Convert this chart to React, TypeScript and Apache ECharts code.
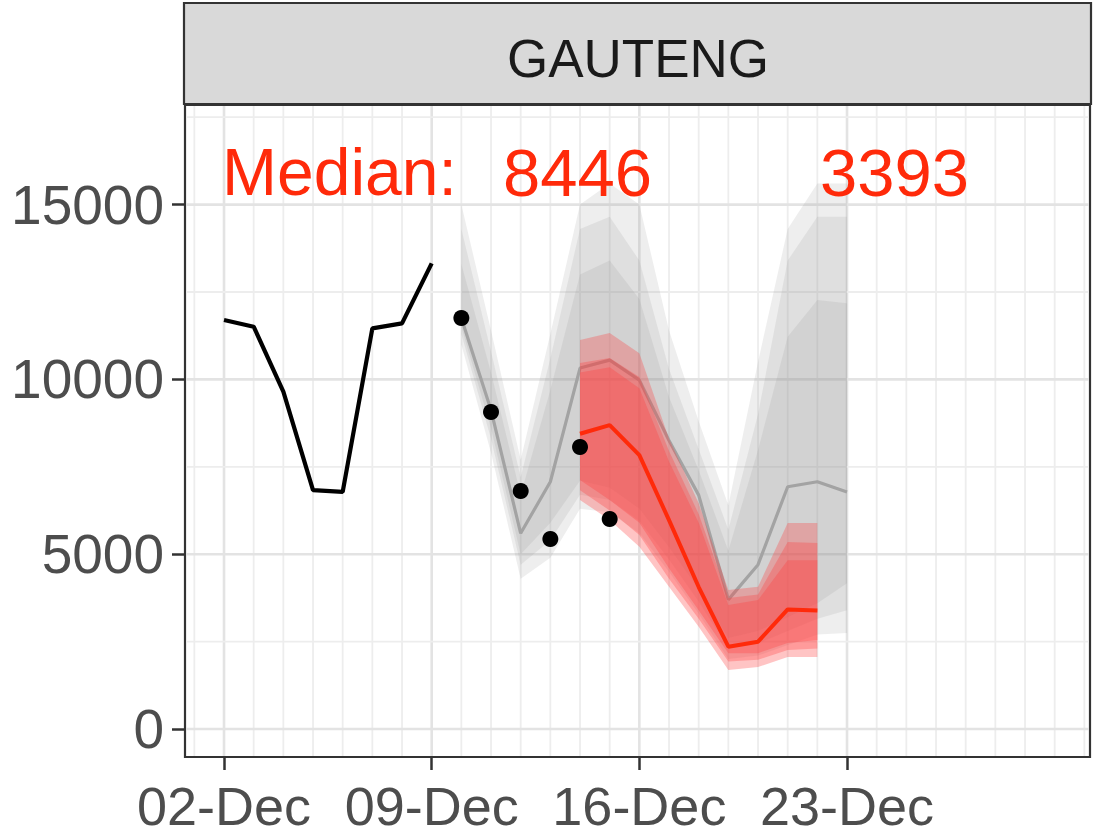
import React, { useEffect, useRef } from 'react';
import * as echarts from 'echarts';

// ---- data (day = day of December) ----
const obsDays = [2, 3, 4, 5, 6, 7, 8, 9];
const obsCases = [11699, 11508, 9650, 6835, 6780, 11460, 11603, 13319];

const laterDays = [10, 11, 12, 13, 14, 15];
const laterCases = [11755, 9066, 6807, 5434, 8065, 6006];

const grayDays = [10, 11, 12, 13, 14, 15, 16, 17, 18, 19, 20, 21, 22, 23];
const grayMedian = [11755, 9123, 5597, 7073, 10325, 10550, 9980, 8250, 6690, 3700, 4700, 6930, 7073, 6780];
const grayOuterUpper = [15000, 11400, 7700, 11300, 15000, 15600, 15000, 11400, 8800, 6400, 10500, 14300, 15600, 15600];
const grayMidUpper = [14300, 10800, 7200, 10600, 14300, 14650, 13400, 10300, 8000, 5700, 9000, 13400, 14650, 14650];
const grayInnerUpper = [13300, 10200, 6700, 9700, 13000, 13400, 12300, 9500, 7400, 5100, 7980, 11220, 12270, 12180];
const grayInnerLower = [11500, 8600, 5000, 5900, 7100, 6900, 6300, 5200, 4000, 2600, 2800, 3200, 3600, 4170];
const grayMidLower = [11300, 8300, 4700, 5400, 6700, 6550, 5950, 4850, 3650, 2300, 2450, 2800, 3150, 3400];
const grayOuterLower = [11000, 7900, 4300, 4900, 6300, 6200, 5600, 4500, 3300, 2000, 2100, 2400, 2700, 2745];

const redDays = [14, 15, 16, 17, 18, 19, 20, 21, 22];
const redMedian = [8446, 8694, 7836, 5975, 4060, 2354, 2497, 3420, 3393];
const redOuterUpper = [11125, 11325, 10750, 8300, 6460, 3975, 4070, 5890, 5890];
const redMidUpper = [10470, 10610, 10070, 7950, 6150, 3750, 3850, 5350, 5320];
const redInnerUpper = [10200, 10350, 9750, 7650, 5900, 3550, 3690, 4830, 4830];
const redInnerLower = [7120, 6550, 5900, 4600, 3400, 2170, 2170, 2460, 2545];
const redMidLower = [6830, 6250, 5550, 4300, 3150, 1930, 1980, 2260, 2300];
const redOuterLower = [6550, 5980, 5215, 4070, 2925, 1690, 1770, 2060, 2060];

const xTickDays = [2, 9, 16, 23];
const xTickLabels = ['02-Dec', '09-Dec', '16-Dec', '23-Dec'];
const gridDays = [1, 2, 3, 4, 5, 6, 7, 8, 9, 10, 11, 12, 13, 14, 15, 16, 17, 18, 19, 20, 21, 22, 23, 24, 25, 26, 27, 28, 29, 30, 31];
const yTicks = [0, 5000, 10000, 15000];
const yMinorTicks = [2500, 7500, 12500, 17500];

const stripLabel = 'GAUTENG';
const medianTexts = ['Median:', '8446', '3393'];

const X_MIN = 0.685;
const X_MAX = 31.19;
const Y_MIN = -801;
const Y_MAX = 17849;

const FONT = 'Liberation Sans, Arial, sans-serif';
const RED = '#FF2A0A';
const GRAY_FILL = 'rgba(140,140,140,0.15)';
const RED_FILL = 'rgba(255,60,60,0.3)';

function ribbon(days: number[], lower: number[], upper: number[], color: string, z: number) {
  return {
    type: 'custom',
    z,
    silent: true,
    data: [[days[0], lower[0]]],
    renderItem: (_params: any, api: any) => {
      const pts: number[][] = [];
      for (let i = 0; i < days.length; i++) pts.push(api.coord([days[i], upper[i]]));
      for (let i = days.length - 1; i >= 0; i--) pts.push(api.coord([days[i], lower[i]]));
      return { type: 'polygon', shape: { points: pts }, style: { fill: color } };
    },
  };
}

export default function App() {
  const ref = useRef<HTMLDivElement>(null);

  useEffect(() => {
    if (!ref.current) return;
    const chart = echarts.init(ref.current, undefined, { renderer: 'svg' });

    const vGrid = {
      type: 'custom',
      z: 1,
      silent: true,
      data: gridDays.map((d) => [d, 0, xTickDays.includes(d) ? 1 : 0]),
      renderItem: (params: any, api: any) => {
        const cs = params.coordSys;
        const x = api.coord([api.value(0), 0])[0];
        const major = api.value(2) === 1;
        return {
          type: 'line',
          shape: { x1: x, y1: cs.y + 1, x2: x, y2: cs.y + cs.height - 1 },
          style: { stroke: major ? '#E3E3E3' : '#EDEDED', lineWidth: major ? 2.6 : 1.8 },
        };
      },
    };
    const hGrid = {
      type: 'custom',
      z: 1,
      silent: true,
      data: [...yTicks.map((v) => [obsDays[0], v, 1]), ...yMinorTicks.map((v) => [obsDays[0], v, 0])],
      renderItem: (params: any, api: any) => {
        const cs = params.coordSys;
        const y = api.coord([obsDays[0], api.value(1)])[1];
        const major = api.value(2) === 1;
        return {
          type: 'line',
          shape: { x1: cs.x + 1, y1: y, x2: cs.x + cs.width - 1, y2: y },
          style: { stroke: major ? '#E3E3E3' : '#EDEDED', lineWidth: major ? 2.6 : 1.8 },
        };
      },
    };

    const option: any = {
      animation: false,
      backgroundColor: '#ffffff',
      textStyle: { fontFamily: FONT },
      grid: {
        left: 185,
        top: 105,
        width: 905,
        height: 652,
        containLabel: false,
        outerBoundsMode: 'none',
        show: true,
        backgroundColor: '#ffffff',
        borderColor: '#333333',
        borderWidth: 2.2,
      },
      xAxis: {
        type: 'value',
        min: X_MIN,
        max: X_MAX,
        position: 'bottom',
        axisLine: { show: false, onZero: false },
        splitLine: { show: false },
        axisTick: { show: true, customValues: xTickDays, length: 13, lineStyle: { color: '#333333', width: 2.5 } },
        axisLabel: {
          customValues: xTickDays,
          formatter: (v: number) => {
            const i = xTickDays.indexOf(Math.round(v));
            return i >= 0 ? xTickLabels[i] : '';
          },
          fontSize: 54,
          color: '#4D4D4D',
          fontFamily: FONT,
          margin: 22,
        },
      },
      yAxis: {
        type: 'value',
        min: Y_MIN,
        max: Y_MAX,
        position: 'left',
        axisLine: { show: false, onZero: false },
        splitLine: { show: false },
        axisTick: { show: true, customValues: yTicks, length: 13, lineStyle: { color: '#333333', width: 2.5 } },
        axisLabel: {
          customValues: yTicks,
          formatter: (v: number) => String(Math.round(v)),
          fontSize: 55,
          color: '#4D4D4D',
          fontFamily: FONT,
          margin: 21,
        },
      },
      graphic: [
        {
          type: 'rect',
          shape: { x: 184, y: 3, width: 907, height: 101 },
          style: { fill: '#D9D9D9', stroke: '#333333', lineWidth: 2.2 },
          z: 10,
        },
        {
          type: 'text',
          x: 638,
          y: 58,
          style: { text: stripLabel, fill: '#1A1A1A', fontSize: 53, fontFamily: FONT, align: 'center', verticalAlign: 'middle' },
          z: 11,
        },
        {
          type: 'text',
          x: 222,
          y: 172,
          style: { text: medianTexts[0], fill: RED, fontSize: 66, fontFamily: FONT, align: 'left', verticalAlign: 'middle' },
          z: 11,
        },
        {
          type: 'text',
          x: 503,
          y: 172,
          style: { text: medianTexts[1], fill: RED, fontSize: 67, fontFamily: FONT, align: 'left', verticalAlign: 'middle' },
          z: 11,
        },
        {
          type: 'text',
          x: 820,
          y: 172,
          style: { text: medianTexts[2], fill: RED, fontSize: 67, fontFamily: FONT, align: 'left', verticalAlign: 'middle' },
          z: 11,
        },
      ],
      series: [
        vGrid,
        hGrid,
        ribbon(grayDays, grayOuterLower, grayOuterUpper, GRAY_FILL, 2),
        ribbon(grayDays, grayMidLower, grayMidUpper, GRAY_FILL, 2),
        ribbon(grayDays, grayInnerLower, grayInnerUpper, GRAY_FILL, 2),
        {
          type: 'line',
          z: 3,
          silent: true,
          data: grayDays.map((d, i) => [d, grayMedian[i]]),
          symbol: 'none',
          lineStyle: { color: '#A3A3A3', width: 3.2 },
        },
        ribbon(redDays, redOuterLower, redOuterUpper, RED_FILL, 4),
        ribbon(redDays, redMidLower, redMidUpper, RED_FILL, 4),
        ribbon(redDays, redInnerLower, redInnerUpper, RED_FILL, 4),
        {
          type: 'line',
          z: 5,
          silent: true,
          data: redDays.map((d, i) => [d, redMedian[i]]),
          symbol: 'none',
          lineStyle: { color: RED, width: 4 },
        },
        {
          type: 'line',
          z: 6,
          silent: true,
          data: obsDays.map((d, i) => [d, obsCases[i]]),
          symbol: 'none',
          lineStyle: { color: '#000000', width: 4.2 },
        },
        {
          type: 'scatter',
          z: 7,
          silent: true,
          data: laterDays.map((d, i) => [d, laterCases[i]]),
          symbol: 'circle',
          symbolSize: 16,
          itemStyle: { color: '#000000', opacity: 1 },
        },
      ],
    };

    chart.setOption(option);
    return () => chart.dispose();
  }, []);

  return (
    <div
      ref={ref}
      style={{ position: 'fixed', left: 0, top: 0, width: 1096, height: 837, background: '#ffffff' }}
    />
  );
}
